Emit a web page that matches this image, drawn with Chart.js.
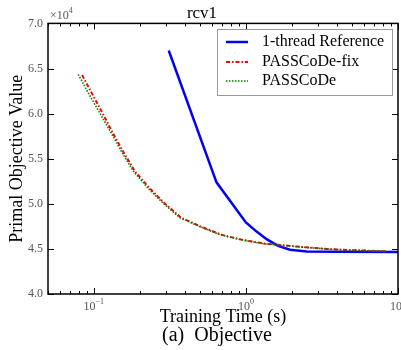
<!DOCTYPE html>
<html>
<head>
<meta charset="utf-8">
<script src="https://cdn.jsdelivr.net/npm/chart.js@4.4.1/dist/chart.umd.min.js"></script>
<style>
  html, body { margin: 0; padding: 0; background: #fff; }
  #wrap { width: 401px; height: 350px; }
</style>
</head>
<body>
<div id="wrap"><canvas id="chart" width="401" height="350"></canvas></div>
<script>
// rcv1: primal objective vs training time (log x)
const seriesNames = ['1-thread Reference', 'PASSCoDe-fix', 'PASSCoDe'];

const timeRef = [0.311, 0.641, 1.0, 1.176, 1.368, 1.63, 1.95, 2.51, 4.0, 10];
const objRef  = [67000, 52380, 47930, 46920, 46080, 45340, 44900, 44710, 44680, 44670];

const timeFix = [0.0838, 0.098, 0.1146, 0.1334, 0.1568, 0.186, 0.231, 0.292, 0.375, 0.506,
                 0.695, 0.951, 1.313, 1.841, 2.595, 3.60, 5.03, 6.98, 8.30];
const objFix  = [64270, 62130, 60000, 57860, 55720, 53620, 51780, 50060, 48460, 47470,
                 46550, 46000, 45590, 45370, 45150, 44970, 44860, 44780, 44750];

const timeOrig = [0.079, 0.093, 0.110, 0.130, 0.153, 0.182, 0.226, 0.286, 0.368, 0.497,
                  0.683, 0.935, 1.29, 1.81, 2.55, 3.54, 4.95, 6.86, 8.30];
const objOrig  = [64350, 62140, 60010, 57860, 55720, 53620, 51780, 50060, 48460, 47470,
                  46550, 46000, 45590, 45370, 45150, 44970, 44860, 44780, 44750];

const yTicks = [40000, 45000, 50000, 55000, 60000, 65000, 70000];
const xMajor = [0.1, 1, 10];
const xTickLabels = ['\u22121', '0', '1'];

const SERIF = '"Liberation Serif", "DejaVu Serif", serif';

function pts(xs, ys) {
    return xs.map((x, i) => ({ x: x, y: ys[i] }));
}

const styles = [
    { color: '#0000ff', width: 2.5, dash: [] },
    { color: '#ff0000', width: 2, dash: [4, 2, 1.5, 2] },
    { color: '#008000', width: 1.6, dash: [1.5, 1.5] }
];

// frame, inward ticks, exponent labels and legend, matplotlib style
const framePlugin = {
    id: 'frame',
    afterDatasetsDraw(chart) {
        const ctx = chart.ctx;
        const a = chart.chartArea;
        const xs = chart.scales.x;
        const ys = chart.scales.y;
        ctx.save();
        ctx.strokeStyle = '#000';
        ctx.lineWidth = 1;
        ctx.beginPath();
        yTicks.forEach(v => {
            const p = Math.round(ys.getPixelForValue(v)) + 0.5;
            ctx.moveTo(a.left, p); ctx.lineTo(a.left + 6, p);
            ctx.moveTo(a.right, p); ctx.lineTo(a.right - 6, p);
        });
        [0.01, 0.1, 1].forEach(d => {
            for (let k = 1; k <= 9; k++) {
                const v = k * d;
                if (v < xs.min - 1e-9 || v > xs.max + 1e-9) continue;
                const len = k === 1 ? 6 : 3;
                const p = Math.round(xs.getPixelForValue(v)) + 0.5;
                ctx.moveTo(p, a.bottom); ctx.lineTo(p, a.bottom - len);
                ctx.moveTo(p, a.top); ctx.lineTo(p, a.top + len);
            }
        });
        const p10 = Math.round(xs.getPixelForValue(10)) + 0.5;
        ctx.moveTo(p10, a.bottom); ctx.lineTo(p10, a.bottom - 6);
        ctx.moveTo(p10, a.top); ctx.lineTo(p10, a.top + 6);
        ctx.stroke();

        ctx.lineWidth = 1.5;
        ctx.strokeRect(a.left, a.top, a.right - a.left, a.bottom - a.top);

        // x tick labels 10^k
        ctx.fillStyle = '#555';
        ctx.textBaseline = 'alphabetic';
        xMajor.forEach((v, i) => {
            const p = xs.getPixelForValue(v);
            ctx.font = '12px ' + SERIF;
            const w1 = ctx.measureText('10').width;
            ctx.font = '8px ' + SERIF;
            const w2 = ctx.measureText(xTickLabels[i]).width;
            const x0 = p - (w1 + w2) / 2;
            ctx.font = '12px ' + SERIF;
            ctx.textAlign = 'left';
            ctx.fillText('10', x0, a.bottom + 16);
            ctx.font = '8px ' + SERIF;
            ctx.fillText(xTickLabels[i], x0 + w1, a.bottom + 10);
        });

        // y multiplier
        ctx.font = '12px ' + SERIF;
        ctx.fillText('\u00d710', a.left + 2, a.top - 4);
        const wm = ctx.measureText('\u00d710').width;
        ctx.font = '8px ' + SERIF;
        ctx.fillText('4', a.left + 2 + wm, a.top - 10);

        // legend
        const lx = 217, ly = 29, lw = 175, lh = 66;
        ctx.fillStyle = '#fff';
        ctx.fillRect(lx, ly, lw, lh);
        ctx.strokeStyle = '#999';
        ctx.lineWidth = 1;
        ctx.strokeRect(lx + 0.5, ly + 0.5, lw, lh);
        const rows = [42, 62, 81];
        ctx.font = '16px ' + SERIF;
        ctx.textBaseline = 'middle';
        ctx.textAlign = 'left';
        seriesNames.forEach((name, i) => {
            const s = styles[i];
            ctx.strokeStyle = s.color;
            ctx.lineWidth = s.width;
            ctx.setLineDash(s.dash);
            ctx.beginPath();
            ctx.moveTo(226, rows[i]); ctx.lineTo(248, rows[i]);
            ctx.stroke();
            ctx.setLineDash([]);
            ctx.fillStyle = '#000';
            ctx.fillText(name, 262, rows[i]);
        });
        ctx.restore();
    }
};

const datasets = [
    { data: pts(timeRef, objRef), order: 3 },
    { data: pts(timeFix, objFix), order: 2 },
    { data: pts(timeOrig, objOrig), order: 1 }
].map((d, i) => Object.assign(d, {
    label: seriesNames[i],
    borderColor: styles[i].color,
    borderWidth: styles[i].width,
    borderDash: styles[i].dash,
    pointRadius: 0,
    tension: 0,
    fill: false
}));

new Chart(document.getElementById('chart').getContext('2d'), {
    type: 'line',
    data: { datasets: datasets },
    options: {
        responsive: false,
        animation: false,
        events: [],
        layout: { padding: { left: 6, right: 3, top: 0, bottom: 0 } },
        plugins: {
            legend: { display: false },
            tooltip: { enabled: false },
            title: {
                display: true,
                text: 'rcv1',
                color: '#000',
                font: { family: SERIF, size: 17, weight: 'normal' },
                padding: { top: 3, bottom: 0 }
            }
        },
        scales: {
            x: {
                type: 'logarithmic',
                min: 0.05,
                max: 10,
                grid: { display: false, drawTicks: false },
                border: { display: false },
                ticks: { display: false },
                title: {
                    display: true,
                    text: 'Training Time (s)',
                    color: '#000',
                    font: { family: SERIF, size: 18 },
                    padding: { top: 0, bottom: 22 }
                },
                afterFit(scale) { scale.height = 56; }
            },
            y: {
                min: 40000,
                max: 70000,
                grid: { display: false, drawTicks: false },
                border: { display: false },
                ticks: {
                    stepSize: 5000,
                    color: '#555',
                    padding: 5,
                    font: { family: SERIF, size: 12 },
                    callback: v => (v / 10000).toFixed(1)
                },
                title: {
                    display: true,
                    text: 'Primal Objective Value',
                    color: '#000',
                    font: { family: SERIF, size: 18 },
                    padding: { top: 0, bottom: 0 }
                },
                afterFit(scale) { scale.width = 42; }
            }
        }
    },
    plugins: [framePlugin, {
        id: 'caption',
        afterDraw(chart) {
            const ctx = chart.ctx;
            ctx.save();
            ctx.fillStyle = '#000';
            ctx.font = '20px ' + SERIF;
            ctx.textAlign = 'center';
            ctx.textBaseline = 'middle';
            ctx.fillText('(a)  Objective', 217, 336);
            ctx.restore();
        }
    }]
});
</script>
</body>
</html>
